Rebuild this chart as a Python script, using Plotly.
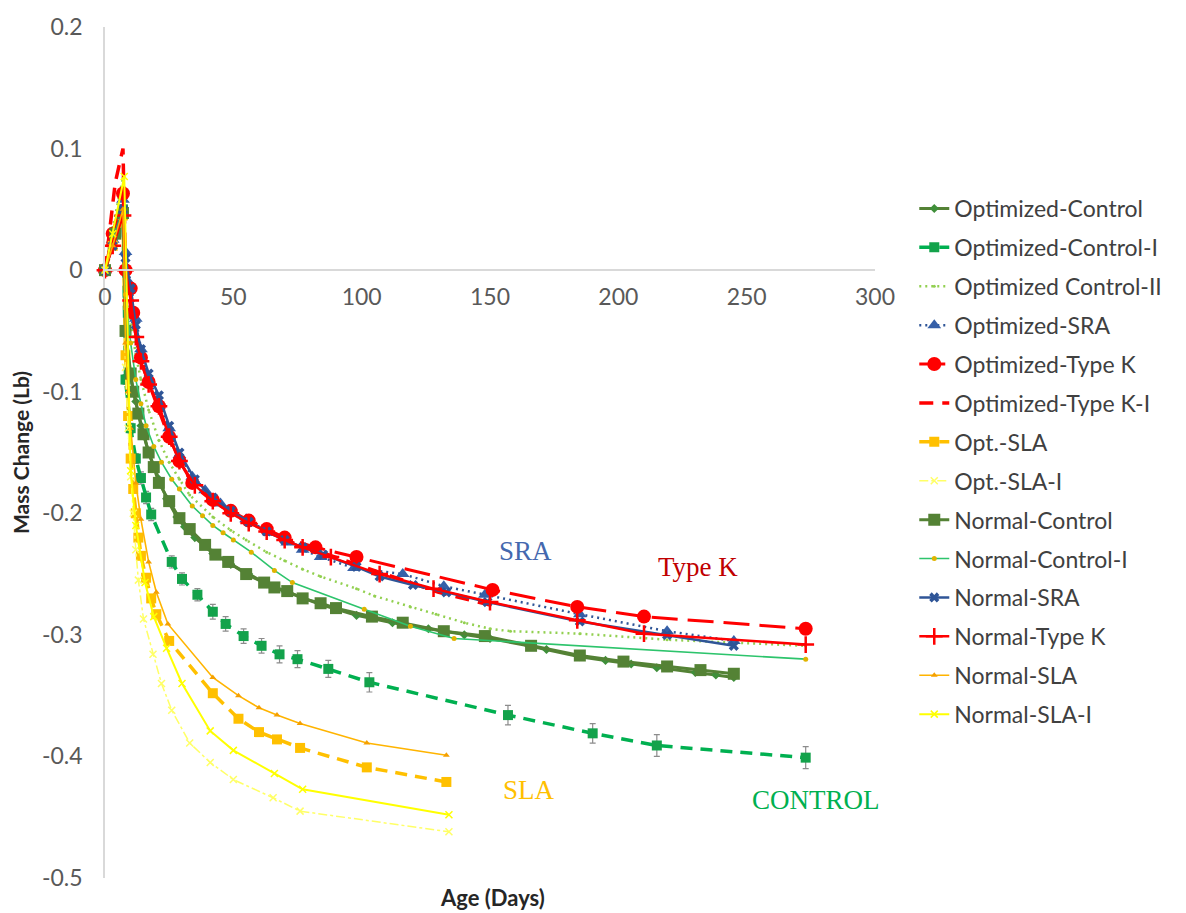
import plotly.graph_objects as go

# ---- Mass change (Lb) versus age (days) for each mix ----
opt_control_days = [0, 3, 7, 8, 10, 12, 14, 17, 21, 24, 28, 31, 35, 42, 49, 56, 63, 70, 84, 98, 112, 126, 140, 150, 165, 172, 185, 195, 205, 215, 230, 238, 245]
opt_control_vals = [0, 0.025, 0.045, -0.05, -0.088, -0.108, -0.128, -0.15, -0.172, -0.188, -0.203, -0.211, -0.22, -0.233, -0.242, -0.25, -0.258, -0.264, -0.275, -0.284, -0.29, -0.295, -0.3, -0.303, -0.309, -0.312, -0.318, -0.321, -0.324, -0.327, -0.331, -0.333, -0.335]

opt_control_i_days = [0, 3, 7, 8, 10, 12, 14, 16, 18, 26, 30, 36, 42, 47, 54, 61, 68, 75, 87, 103, 157, 190, 215, 273]
opt_control_i_vals = [0, 0.028, 0.05, -0.09, -0.13, -0.155, -0.171, -0.187, -0.201, -0.24, -0.254, -0.267, -0.281, -0.291, -0.301, -0.309, -0.316, -0.32, -0.328, -0.339, -0.366, -0.381, -0.391, -0.401]
opt_control_i_err = [0.002, 0.003, 0.003, 0.004, 0.004, 0.004, 0.005, 0.005, 0.005, 0.005, 0.005, 0.005, 0.006, 0.006, 0.006, 0.006, 0.007, 0.007, 0.007, 0.008, 0.008, 0.008, 0.009, 0.009]

opt_control_ii_days = [0, 3, 7, 8, 10, 12, 14, 17, 21, 25, 29, 33, 42, 49, 55, 63, 70, 77, 84, 98, 105, 119, 129, 140, 150, 158, 185, 219, 273]
opt_control_ii_vals = [0, 0.035, 0.076, -0.005, -0.04, -0.07, -0.09, -0.115, -0.14, -0.158, -0.172, -0.185, -0.203, -0.214, -0.222, -0.232, -0.239, -0.246, -0.252, -0.262, -0.268, -0.277, -0.283, -0.29, -0.295, -0.297, -0.299, -0.304, -0.309]

opt_sra_days = [0, 3, 7, 8, 10, 12, 14, 17, 21, 25, 29, 34, 39, 45, 50, 55, 64, 71, 77, 84, 97, 116, 132, 148, 185, 219, 245]
opt_sra_vals = [0, 0.025, 0.058, 0.015, -0.012, -0.04, -0.065, -0.09, -0.108, -0.13, -0.152, -0.17, -0.181, -0.192, -0.199, -0.205, -0.216, -0.224, -0.23, -0.236, -0.245, -0.25, -0.26, -0.267, -0.283, -0.297, -0.305]

opt_typek_days = [0, 3, 7, 8, 10, 11, 14, 17, 21, 25, 29, 34, 42, 49, 56, 63, 70, 82, 98, 151, 184, 210, 273]
opt_typek_vals = [0, 0.03, 0.063, 0.0, -0.015, -0.035, -0.072, -0.092, -0.112, -0.137, -0.157, -0.175, -0.189, -0.198, -0.206, -0.213, -0.22, -0.228, -0.236, -0.263, -0.277, -0.285, -0.295]

opt_typek_i_days = [0, 4, 7, 8, 10, 14, 21, 28, 35, 42, 56, 70, 84, 98, 112, 130, 153]
opt_typek_i_vals = [0, 0.072, 0.1, 0.0, -0.03, -0.075, -0.115, -0.155, -0.178, -0.19, -0.208, -0.222, -0.232, -0.242, -0.252, -0.265, -0.277]

opt_sla_days = [0, 3, 7, 8, 9, 10, 11, 12, 13, 14, 16, 18, 20, 25, 42, 52, 60, 67, 76, 102, 133]
opt_sla_vals = [0, 0.02, 0.045, -0.07, -0.12, -0.155, -0.18, -0.2, -0.22, -0.235, -0.253, -0.27, -0.283, -0.305, -0.348, -0.369, -0.38, -0.386, -0.393, -0.409, -0.421]

opt_sla_i_days = [0, 3, 7, 8, 9, 10, 11, 12, 13, 15, 18.7, 22, 26, 33, 41, 50, 65.5, 76, 134]
opt_sla_i_vals = [0, 0.02, 0.05, -0.08, -0.13, -0.17, -0.2, -0.23, -0.255, -0.287, -0.316, -0.34, -0.362, -0.389, -0.405, -0.419, -0.434, -0.445, -0.462]

nor_control_days = [0, 4, 7, 8, 10, 11, 13, 15, 17, 19, 21, 25, 29, 33, 39, 43, 48, 55, 62, 66, 71, 77, 84, 90, 104, 116, 132, 148, 166, 185, 202, 219, 232, 245]
nor_control_vals = [0, 0.03, 0.047, -0.05, -0.085, -0.1, -0.118, -0.135, -0.15, -0.162, -0.175, -0.19, -0.204, -0.213, -0.226, -0.234, -0.24, -0.25, -0.257, -0.261, -0.264, -0.27, -0.274, -0.278, -0.285, -0.29, -0.297, -0.301, -0.309, -0.317, -0.322, -0.326, -0.329, -0.332]

nor_control_i_days = [0, 3, 7, 8, 10, 12, 14, 16, 19, 22, 26, 29, 34, 38, 42, 46, 50, 57, 66, 73, 101, 119, 136, 273]
nor_control_i_vals = [0, 0.025, 0.05, -0.02, -0.06, -0.09, -0.11, -0.128, -0.145, -0.158, -0.172, -0.18, -0.194, -0.202, -0.21, -0.216, -0.222, -0.232, -0.247, -0.257, -0.279, -0.293, -0.303, -0.32]

nor_sra_days = [0, 3, 7, 8, 10, 12, 14, 17, 21, 25, 29, 35, 42, 49, 56, 63, 70, 77, 85, 98, 107, 120, 133, 149, 185, 219, 245]
nor_sra_vals = [0, 0.02, 0.05, 0.01, -0.015, -0.045, -0.065, -0.085, -0.103, -0.128, -0.15, -0.172, -0.187, -0.198, -0.207, -0.215, -0.222, -0.228, -0.234, -0.244, -0.252, -0.259, -0.265, -0.273, -0.289, -0.3, -0.309]

nor_typek_days = [0, 3, 7, 8, 10, 12, 14, 17, 21, 25, 29, 35, 42, 49, 56, 63, 70, 77, 88, 107, 128, 150, 184, 210, 273]
nor_typek_vals = [0, 0.02, 0.045, 0.0, -0.025, -0.055, -0.075, -0.094, -0.112, -0.137, -0.157, -0.177, -0.19, -0.2, -0.208, -0.215, -0.222, -0.228, -0.236, -0.25, -0.262, -0.273, -0.288, -0.299, -0.308]

nor_sla_days = [0, 3, 7, 8, 9, 10, 12, 14, 17, 20, 24.5, 42, 52, 60, 67, 76, 102, 133]
nor_sla_vals = [0, 0.02, 0.05, -0.06, -0.1, -0.13, -0.175, -0.205, -0.24, -0.265, -0.291, -0.335, -0.35, -0.36, -0.366, -0.373, -0.389, -0.399]

nor_sla_i_days = [0, 3, 7.5, 10, 12, 15.6, 19, 24, 30, 41, 50, 66, 77, 134]
nor_sla_i_vals = [0, 0.03, 0.077, -0.165, -0.21, -0.257, -0.285, -0.311, -0.34, -0.379, -0.395, -0.414, -0.427, -0.448]

x_ticks = [0, 50, 100, 150, 200, 250, 300]
x_tick_text = ["0", "50", "100", "150", "200", "250", "300"]
y_ticks = [0.2, 0.1, 0, -0.1, -0.2, -0.3, -0.4, -0.5]
y_tick_text = ["0.2", "0.1", "0", "-0.1", "-0.2", "-0.3", "-0.4", "-0.5"]

# Group labels placed beside the curve families
group_labels = ["SRA", "Type K", "SLA", "CONTROL"]
group_label_days = [164, 231, 165, 277]
group_label_vals = [-0.231, -0.244, -0.428, -0.436]
group_label_colors = ["#4468AE", "#C00000", "#FFC000", "#00B050"]

FONT = "Lato"

fig = go.Figure()


def add_series(name, days, vals, color, width, dash="solid", symbol=None, msize=0,
               mcolor=None, mline=None, err=None):
    mode = "lines+markers" if symbol else "lines"
    marker = dict(symbol=symbol or "circle", size=msize, color=mcolor or color)
    if mline:
        marker["line"] = mline
    trace = go.Scatter(
        x=days, y=vals, name=name, mode=mode, legendgroup=name,
        line=dict(color=color, width=width, dash=dash),
        marker=marker, cliponaxis=False,
    )
    if err is not None:
        trace.error_y = dict(type="data", array=err, visible=True,
                             color="#8C8C8C", thickness=1.2, width=3)
    fig.add_trace(trace)


add_series("Optimized-Control", opt_control_days, opt_control_vals, "#548235", 3,
           symbol="diamond", msize=7, mcolor="#3F8F3A")
add_series("Optimized-Control-I", opt_control_i_days, opt_control_i_vals, "#00B050", 3.5,
           dash="12px,8px", symbol="square", msize=10, mcolor="#13A24B", err=opt_control_i_err)
add_series("Optimized Control-II", opt_control_ii_days, opt_control_ii_vals, "#92D050", 2.5,
           dash="2px,4px", symbol="circle", msize=3, mcolor="#92D050")
add_series("Optimized-SRA", opt_sra_days, opt_sra_vals, "#2F5597", 2.5,
           dash="2px,4px", symbol="triangle-up", msize=12, mcolor="#3660A8")
add_series("Optimized-Type K", opt_typek_days, opt_typek_vals, "#FF0000", 3,
           dash="26px,10px", symbol="circle", msize=14, mcolor="#FF0000")
add_series("Optimized-Type K-I", opt_typek_i_days, opt_typek_i_vals, "#FF0000", 3.5,
           dash="14px,9px")
add_series("Opt.-SLA", opt_sla_days, opt_sla_vals, "#FFC000", 3.5,
           dash="12px,8px", symbol="square", msize=10, mcolor="#FFC000")
add_series("Opt.-SLA-I", opt_sla_i_days, opt_sla_i_vals, "#FFFF66", 1.5,
           dash="dashdot", symbol="x-thin-open", msize=7, mline=dict(color="#F5E94A", width=1.5))
add_series("Normal-Control", nor_control_days, nor_control_vals, "#548235", 3,
           symbol="square", msize=12, mcolor="#548235")
add_series("Normal-Control-I", nor_control_i_days, nor_control_i_vals, "#2DC46C", 1.6,
           symbol="circle", msize=5, mcolor="#E0B400")
add_series("Normal-SRA", nor_sra_days, nor_sra_vals, "#2F5597", 2.5,
           symbol="x", msize=9, mcolor="#2F5597")
add_series("Normal-Type K", nor_typek_days, nor_typek_vals, "#FF0000", 2.5,
           symbol="cross-thin-open", msize=12, mline=dict(color="#FF0000", width=2.5))
add_series("Normal-SLA", nor_sla_days, nor_sla_vals, "#FFB400", 1.6,
           symbol="triangle-up", msize=6, mcolor="#F5A000")
add_series("Normal-SLA-I", nor_sla_i_days, nor_sla_i_vals, "#FFFF00", 2,
           symbol="x-thin-open", msize=7, mline=dict(color="#EDE000", width=1.5))

for txt, dx, dy, col in zip(group_labels, group_label_days, group_label_vals, group_label_colors):
    fig.add_annotation(x=dx, y=dy, xref="x", yref="y", text=txt, showarrow=False,
                       font=dict(family="Liberation Serif", size=27, color=col))

# x-axis title sits at the bottom of the plot, below the data
fig.add_annotation(x=(492 - 105) / 770, y=-0.023, xref="paper", yref="paper",
                   text="<b>Age (Days)</b>", showarrow=False, yanchor="middle",
                   font=dict(family=FONT, size=22, color="#262626"))

fig.update_layout(
    width=1186, height=913,
    margin=dict(l=105, r=311, t=20, b=35),
    paper_bgcolor="white", plot_bgcolor="white",
    font=dict(family=FONT, color="#595959"),
    showlegend=True,
    legend=dict(x=1.051, xanchor="left", y=0.812, yanchor="top",
                font=dict(family=FONT, size=23, color="#404040"),
                tracegroupgap=6, bgcolor="rgba(0,0,0,0)"),
    xaxis=dict(range=[0, 300], tickvals=x_ticks, ticktext=x_tick_text,
               anchor="free", position=0.5 / 0.7, showgrid=False, zeroline=False,
               showline=True, linecolor="#D9D9D9", linewidth=1.5, ticks="",
               ticklabelstandoff=7, tickfont=dict(family=FONT, size=23, color="#595959")),
    yaxis=dict(range=[-0.5, 0.2], tickvals=y_ticks, ticktext=y_tick_text,
               showgrid=False, zeroline=False, showline=True, linecolor="#D9D9D9",
               linewidth=1.5, ticks="", ticklabelstandoff=16,
               tickfont=dict(family=FONT, size=23, color="#595959"),
               title=dict(text="<b>Mass Change (Lb)</b>", standoff=7,
                          font=dict(family=FONT, size=21, color="#262626"))),
)

fig.write_html("out.html")
